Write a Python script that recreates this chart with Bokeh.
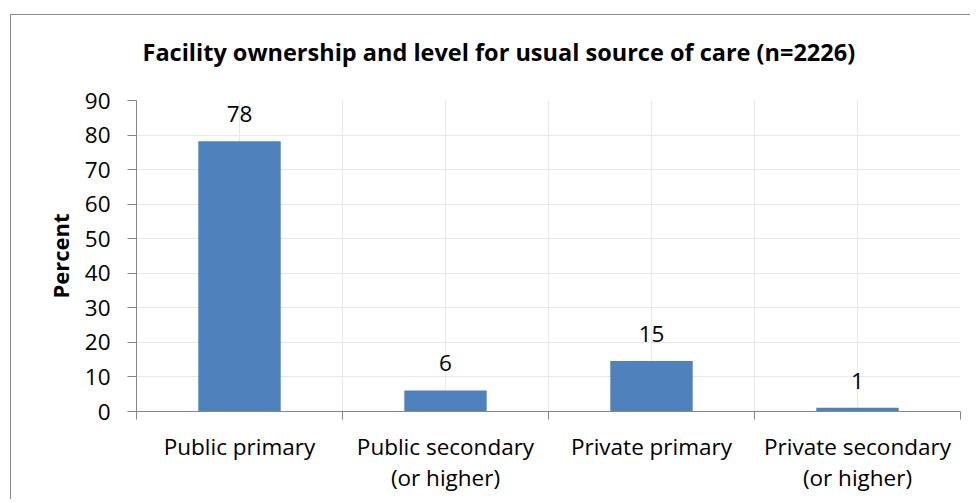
from bokeh.plotting import figure
from bokeh.models import FixedTicker, LinearAxis, Range1d, ColumnDataSource, Grid
from bokeh.core.properties import value
from bokeh.embed import file_html
from bokeh.resources import INLINE

# ---- data ----
label_line1 = ["Public primary", "Public secondary", "Private primary", "Private secondary"]
label_line2 = ["", "(or higher)", "", "(or higher)"]
percent = [78.2, 6.1, 14.6, 1.1]
bar_labels = ["78", "6", "15", "1"]
y_ticks = [0, 10, 20, 30, 40, 50, 60, 70, 80, 90]

FONT = "Open Sans"
FS = "22.5px"
n = len(percent)
xc = [i + 0.5 for i in range(n)]
src = ColumnDataSource(dict(x=xc, percent=percent, lab=bar_labels))

p = figure(width=960, height=485, output_backend="svg", toolbar_location=None,
           x_range=Range1d(0, n), y_range=Range1d(0, 90),
           x_axis_location=None,
           min_border_left=125, min_border_right=11, min_border_top=85, min_border_bottom=89)
p.outline_line_color = None
p.background_fill_color = "white"
p.border_fill_color = "white"
p.styles = {"border-left": "1px solid #8a8a8a", "border-top": "1px solid #8a8a8a",
            "margin-left": "10px", "margin-top": "14px"}

p.title.text = "Facility ownership and level for usual source of care (n=2226)"
p.title.align = "left"
p.title.offset = 6
p.title.text_font = FONT
p.title.text_font_size = "23.5px"
p.title.text_font_style = "bold"
p.title.text_color = "black"
p.title.standoff = 30

# invisible spacer between title and plot area
spacer = LinearAxis(ticker=FixedTicker(ticks=[0]), major_label_overrides={0: ""},
                    major_tick_out=18, major_tick_in=0, major_tick_line_color=None,
                    minor_tick_line_color=None, axis_line_color=None,
                    major_label_text_font_size="1px", major_label_standoff=0)
p.add_layout(spacer, "above")

# grids
p.grid.visible = False
p.add_layout(Grid(dimension=1, ticker=FixedTicker(ticks=y_ticks), grid_line_color="#e8e8e8"))
p.add_layout(Grid(dimension=0, ticker=FixedTicker(ticks=[i / 2 for i in range(2 * n + 1)]),
                  grid_line_color="#e8e8e8"))

# y axis
ya = p.yaxis[0]
ya.ticker = FixedTicker(ticks=y_ticks)
ya.major_tick_out = 9
ya.major_tick_in = 0
ya.minor_tick_line_color = None
ya.axis_line_color = "#868686"
ya.major_tick_line_color = "#868686"
ya.major_label_text_font = FONT
ya.major_label_text_font_size = FS
ya.major_label_text_color = "black"
ya.major_label_standoff = 17
ya.axis_label = "Percent"
ya.axis_label_text_font = FONT
ya.axis_label_text_font_size = "22px"
ya.axis_label_text_font_style = "bold"
ya.axis_label_text_color = "black"
ya.axis_label_standoff = 7

# x axis: boundary ticks
xa = LinearAxis(ticker=FixedTicker(ticks=list(range(n + 1))),
                major_label_overrides={i: "" for i in range(n + 1)},
                major_tick_out=8, major_tick_in=0, minor_tick_line_color=None,
                axis_line_color="#868686", major_tick_line_color="#868686",
                major_label_text_font_size="1px", major_label_standoff=0)
p.add_layout(xa, "below")

# x labels line 1
xb = LinearAxis(ticker=FixedTicker(ticks=xc),
                major_label_overrides={x: t for x, t in zip(xc, label_line1)},
                major_tick_line_color=None, minor_tick_line_color=None, axis_line_color=None,
                major_tick_out=0, major_tick_in=0,
                major_label_text_font=FONT, major_label_text_font_size=FS,
                major_label_text_color="black", major_label_standoff=11)
p.add_layout(xb, "below")

# x labels line 2
xl = LinearAxis(ticker=FixedTicker(ticks=xc),
                major_label_overrides={x: t for x, t in zip(xc, label_line2)},
                major_tick_line_color=None, minor_tick_line_color=None, axis_line_color=None,
                major_tick_out=0, major_tick_in=0,
                major_label_text_font=FONT, major_label_text_font_size=FS,
                major_label_text_color="black", major_label_standoff=-3)
p.add_layout(xl, "below")

p.vbar(x="x", top="percent", width=0.4, source=src, fill_color="#4F81BD", line_color=None)
p.text(x="x", y="percent", text="lab", source=src, text_align="center", text_baseline="middle",
       y_offset=-27, text_font=value(FONT), text_font_size=FS, text_color="black")

open("out.html", "w").write(file_html(p, INLINE))
